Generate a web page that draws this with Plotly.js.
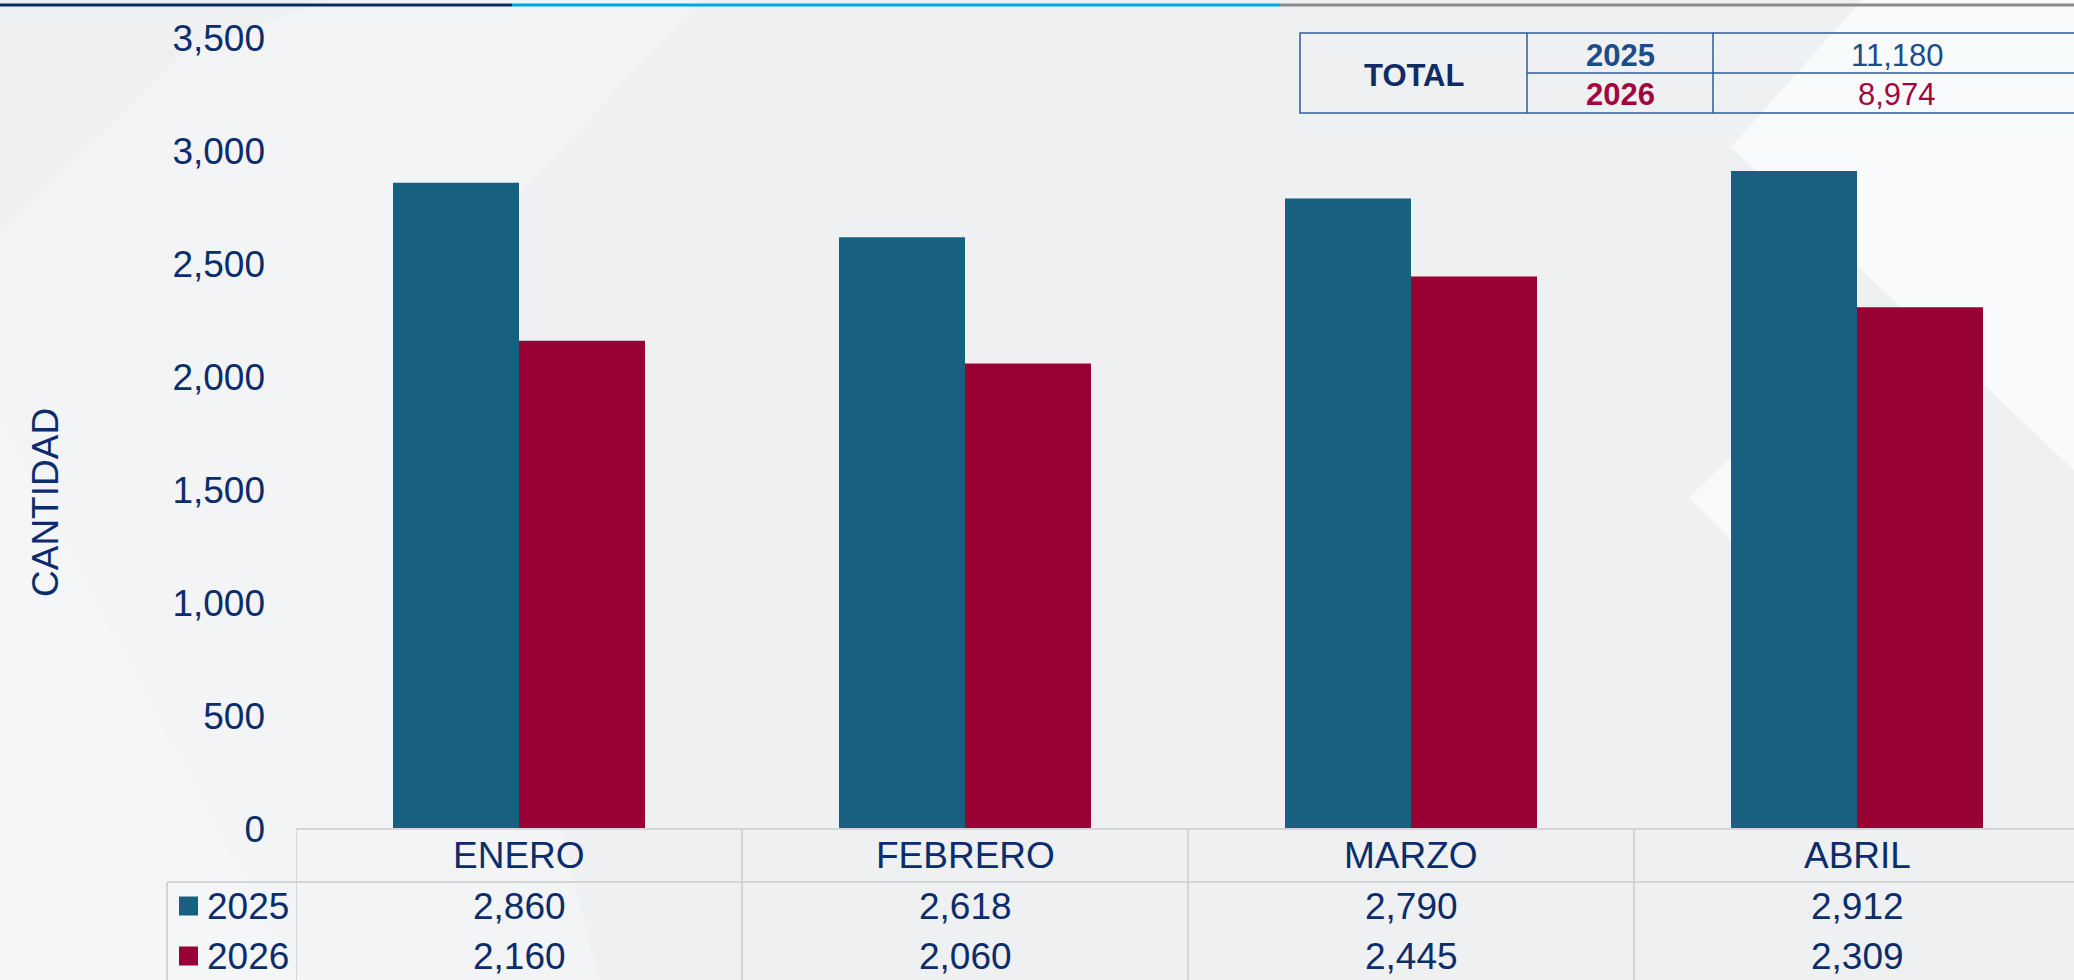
<!DOCTYPE html>
<html>
<head>
<meta charset="utf-8">
<script src="https://cdn.plot.ly/plotly-3.0.1.min.js"></script>
<style>
  html, body { margin: 0; padding: 0; background: #eef0f2; }
  #chart { width: 2074px; height: 980px; }
</style>
</head>
<body>
<div id="chart"></div>
<script>
// ---- data ----
const months = ["ENERO", "FEBRERO", "MARZO", "ABRIL"];
const seriesNames = ["2025", "2026"];
const values2025 = [2860, 2618, 2790, 2912];
const values2026 = [2160, 2060, 2445, 2309];
const totalLabel = "TOTAL";
const totals = [11180, 8974];
const yTicks = [0, 500, 1000, 1500, 2000, 2500, 3000, 3500];
const yTitle = "CANTIDAD";

// ---- styling ----
const W = 2074, H = 980;
const FONT = "Liberation Sans, Arial, Helvetica, sans-serif";
const NAVY = "#0b2d6b";
const BLUE = "#17607f";
const RED = "#990033";
const TOT_BLUE = "#1b4c8c";
const TOT_RED = "#a1063c";
const GRID = "#d3d5d8";
const TBL_LINE = "#2f5b98";

const px = v => v / W;            // pixel x -> paper
const py = v => 1 - v / H;        // pixel y (from top) -> paper
const fmt = v => v.toLocaleString("en-US");

const plotLeft = 296, plotBottom = 829, plotTop = 38, catWidth = 446;
const colors = [BLUE, RED];
const seriesValues = [values2025, values2026];

const traces = seriesNames.map((name, i) => ({
  type: "bar",
  name: name,
  x: months,
  y: seriesValues[i],
  marker: { color: colors[i], line: { width: 0 } },
  hoverinfo: "x+y+name",
  showlegend: false
}));

const shapes = [];
const annotations = [];

// background light streaks
shapes.push({ type: "path", xref: "paper", yref: "paper", layer: "below",
  path: `M ${px(0)} ${py(980)} L ${px(0)} ${py(235)} L ${px(185)} ${py(52)} L ${px(330)} ${py(0)} L ${px(700)} ${py(0)} L ${px(420)} ${py(300)} L ${px(600)} ${py(980)} Z`,
  fillcolor: "rgba(255,255,255,0.3)", line: { width: 0 } });
shapes.push({ type: "path", xref: "paper", yref: "paper", layer: "below",
  path: `M ${px(0)} ${py(980)} L ${px(0)} ${py(420)} L ${px(300)} ${py(980)} Z`,
  fillcolor: "rgba(255,255,255,0.2)", line: { width: 0 } });
shapes.push({ type: "path", xref: "paper", yref: "paper", layer: "below",
  path: `M ${px(1862)} ${py(0)} L ${px(2074)} ${py(0)} L ${px(2074)} ${py(470)} L ${px(1731)} ${py(147)} Z`,
  fillcolor: "rgba(255,255,255,0.65)", line: { width: 0 } });
shapes.push({ type: "path", xref: "paper", yref: "paper", layer: "below",
  path: `M ${px(1689)} ${py(498)} L ${px(1830)} ${py(360)} L ${px(1960)} ${py(498)} L ${px(1830)} ${py(640)} Z`,
  fillcolor: "rgba(255,255,255,0.6)", line: { width: 0 } });

// top coloured rule
[[0, 512, "#0d2a5c"], [512, 1280, "#00a8e1"], [1280, 2074, "#8c8c8c"]].forEach(s => {
  shapes.push({ type: "line", xref: "paper", yref: "paper",
    x0: px(s[0]), x1: px(s[1]), y0: py(5), y1: py(5),
    line: { color: s[2], width: 3 } });
});

// data table grid under the chart
const headerBottom = 882, row1 = 906, row2 = 956;
shapes.push({ type: "line", xref: "paper", yref: "paper",
  x0: px(plotLeft), x1: 1, y0: py(plotBottom), y1: py(plotBottom),
  line: { color: GRID, width: 2 } });
shapes.push({ type: "line", xref: "paper", yref: "paper",
  x0: px(167), x1: 1, y0: py(headerBottom), y1: py(headerBottom),
  line: { color: GRID, width: 2 } });
shapes.push({ type: "line", xref: "paper", yref: "paper",
  x0: px(167), x1: px(167), y0: py(headerBottom), y1: 0,
  line: { color: GRID, width: 2 } });
months.forEach((m, i) => {
  shapes.push({ type: "line", xref: "x", yref: "paper",
    x0: i - 0.5, x1: i - 0.5, y0: py(plotBottom), y1: 0,
    line: { color: GRID, width: 2 } });
  annotations.push({ xref: "x", yref: "paper", x: i, y: py(855.5),
    text: m, showarrow: false, xanchor: "center", yanchor: "middle",
    font: { family: FONT, size: 37, color: NAVY } });
  annotations.push({ xref: "x", yref: "paper", x: i, y: py(row1),
    text: fmt(values2025[i]), showarrow: false, xanchor: "center", yanchor: "middle",
    font: { family: FONT, size: 37, color: NAVY } });
  annotations.push({ xref: "x", yref: "paper", x: i, y: py(row2),
    text: fmt(values2026[i]), showarrow: false, xanchor: "center", yanchor: "middle",
    font: { family: FONT, size: 37, color: NAVY } });
});

// legend keys in the table
[row1, row2].forEach((ry, i) => {
  shapes.push({ type: "rect", xref: "paper", yref: "paper",
    x0: px(179), x1: px(198), y0: py(ry - 9.5), y1: py(ry + 9.5),
    fillcolor: colors[i], line: { width: 0 } });
  annotations.push({ xref: "paper", yref: "paper", x: px(205), y: py(ry),
    text: seriesNames[i], showarrow: false, xanchor: "left", yanchor: "middle",
    font: { family: FONT, size: 37, color: NAVY } });
});

// y-axis title
annotations.push({ xref: "paper", yref: "paper", x: px(45), y: py(503),
  text: yTitle, textangle: -90, showarrow: false, xanchor: "center", yanchor: "middle",
  font: { family: FONT, size: 37, color: NAVY } });

// total box (top right)
const tb = { l: 1300, c1: 1527, c2: 1713, r: 2080, t: 33, m: 73, b: 113 };
shapes.push({ type: "rect", xref: "paper", yref: "paper",
  x0: px(tb.l), x1: px(tb.r), y0: py(tb.t), y1: py(tb.b),
  line: { color: TBL_LINE, width: 1.5 }, fillcolor: "rgba(0,0,0,0)" });
[tb.c1, tb.c2].forEach(xv => shapes.push({ type: "line", xref: "paper", yref: "paper",
  x0: px(xv), x1: px(xv), y0: py(tb.t), y1: py(tb.b), line: { color: TBL_LINE, width: 1.5 } }));
shapes.push({ type: "line", xref: "paper", yref: "paper",
  x0: px(tb.c1), x1: px(tb.r), y0: py(tb.m), y1: py(tb.m), line: { color: TBL_LINE, width: 1.5 } });
annotations.push({ xref: "paper", yref: "paper", x: px((tb.l + tb.c1) / 2), y: py(75),
  text: "<b>" + totalLabel + "</b>", showarrow: false, xanchor: "center", yanchor: "middle",
  font: { family: FONT, size: 31, color: "#0f2b63" } });
const totColors = [TOT_BLUE, TOT_RED];
[55, 94].forEach((ry, i) => {
  annotations.push({ xref: "paper", yref: "paper", x: px((tb.c1 + tb.c2) / 2), y: py(ry),
    text: "<b>" + seriesNames[i] + "</b>", showarrow: false, xanchor: "center", yanchor: "middle",
    font: { family: FONT, size: 31, color: totColors[i] } });
  annotations.push({ xref: "paper", yref: "paper", x: px(1897), y: py(ry),
    text: fmt(totals[i]), showarrow: false, xanchor: "center", yanchor: "middle",
    font: { family: FONT, size: 31, color: totColors[i] } });
});

const layout = {
  width: W, height: H,
  margin: { l: 0, r: 0, t: 0, b: 0, pad: 0 },
  paper_bgcolor: "#eef0f2",
  plot_bgcolor: "rgba(0,0,0,0)",
  barmode: "group",
  bargap: 0.435,
  bargroupgap: 0,
  showlegend: false,
  xaxis: {
    domain: [px(plotLeft), 1],
    range: [-0.5, -0.5 + (W - plotLeft) / catWidth],
    showticklabels: false, ticks: "", showgrid: false, zeroline: false, showline: false,
    fixedrange: true
  },
  yaxis: {
    domain: [py(plotBottom), py(plotTop)],
    range: [0, 3500],
    tickvals: yTicks,
    ticktext: yTicks.map(fmt),
    ticks: "", showgrid: false, zeroline: false, showline: false,
    ticklabelstandoff: 30,
    tickfont: { family: FONT, size: 37, color: NAVY },
    automargin: false,
    fixedrange: true
  },
  shapes: shapes,
  annotations: annotations
};

Plotly.newPlot("chart", traces, layout, { displayModeBar: false, staticPlot: false });
</script>
</body>
</html>
